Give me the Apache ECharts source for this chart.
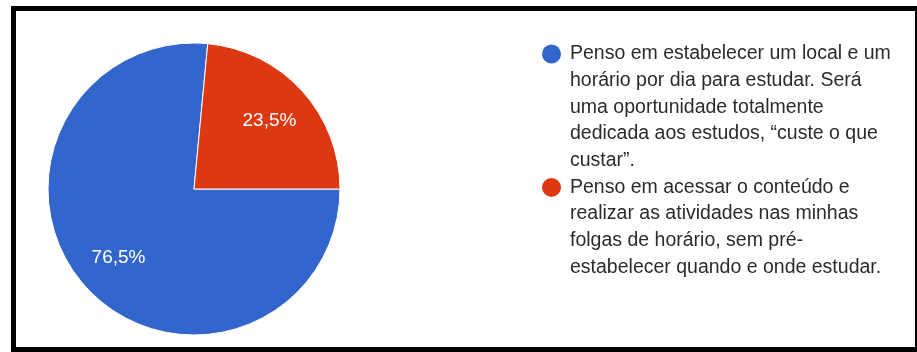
<!DOCTYPE html>
<html>
<head>
<meta charset="utf-8">
<style>
  html, body { margin: 0; padding: 0; background: #fff; }
  #chart { width: 917px; height: 352px; }
</style>
<script src="https://cdn.jsdelivr.net/npm/echarts@6/dist/echarts.min.js"></script>
</head>
<body>
<div id="chart"></div>
<script>
// Answer options (line breaks as shown in the legend)
const categories = [
  'Penso em estabelecer um local e um\nhorário por dia para estudar. Será\numa oportunidade totalmente\ndedicada aos estudos, “custe o que\ncustar”.',
  'Penso em acessar o conteúdo e\nrealizar as atividades nas minhas\nfolgas de horário, sem pré-\nestabelecer quando e onde estudar.'
];
// Share of responses, in percent
const percentages = [76.5, 23.5];
const palette = ['#3366cc', '#dc3912'];

const chart = echarts.init(document.getElementById('chart'), null, { renderer: 'canvas' });

const pieData = categories.map((name, i) => ({
  name: name,
  value: percentages[i],
  itemStyle: { color: palette[i] }
}));

const fmtPct = v => v.toFixed(1).replace('.', ',') + '%';

// Legend rich styles: a round swatch on the first line, indent on the rest
const rich = {
  gap: { width: 9 },
  ind: { width: 28 }
};
palette.forEach((c, i) => {
  rich['dot' + i] = { width: 19, height: 19, backgroundColor: c, borderRadius: 9.5 };
});

const center = [194, 189];

chart.setOption({
  animation: false,
  graphic: [{
    type: 'rect',
    shape: { x: 13.5, y: 8.5, width: 904, height: 341 },
    style: { fill: 'none', stroke: '#000', lineWidth: 5 },
    z: 100
  }],
  legend: {
    orient: 'vertical',
    left: 536,
    top: 40.7,
    padding: 0,
    itemGap: 0,
    itemWidth: 0,
    itemHeight: 0,
    icon: 'circle',
    selectedMode: false,
    data: categories,
    formatter: function (name) {
      const idx = categories.indexOf(name);
      return name.split('\n').map((line, k) =>
        (k === 0 ? '{dot' + idx + '|}{gap|}' : '{ind|}') + line
      ).join('\n');
    },
    textStyle: {
      fontFamily: 'Arial, "Liberation Sans", sans-serif',
      fontSize: 19.5,
      color: '#2b2b2b',
      lineHeight: 26.67,
      rich: rich
    }
  },
  series: [
    {
      type: 'pie',
      center: center,
      radius: [0, 146],
      startAngle: 0,
      clockwise: true,
      silent: true,
      label: { show: false },
      labelLine: { show: false },
      itemStyle: { borderColor: '#fff', borderWidth: 1 },
      data: pieData
    },
    {
      // transparent ring carrying the percentage labels
      type: 'pie',
      center: center,
      radius: [52, 146],
      startAngle: 0,
      clockwise: true,
      silent: true,
      legendHoverLink: false,
      itemStyle: { color: 'rgba(0,0,0,0)', borderWidth: 0 },
      label: {
        show: true,
        position: 'inside',
        color: '#fff',
        fontFamily: 'Arial, "Liberation Sans", sans-serif',
        fontSize: 19,
        formatter: p => fmtPct(p.value)
      },
      labelLine: { show: false },
      data: pieData.map(d => ({ name: d.name, value: d.value, itemStyle: { color: 'rgba(0,0,0,0)' } }))
    }
  ]
});
</script>
</body>
</html>
